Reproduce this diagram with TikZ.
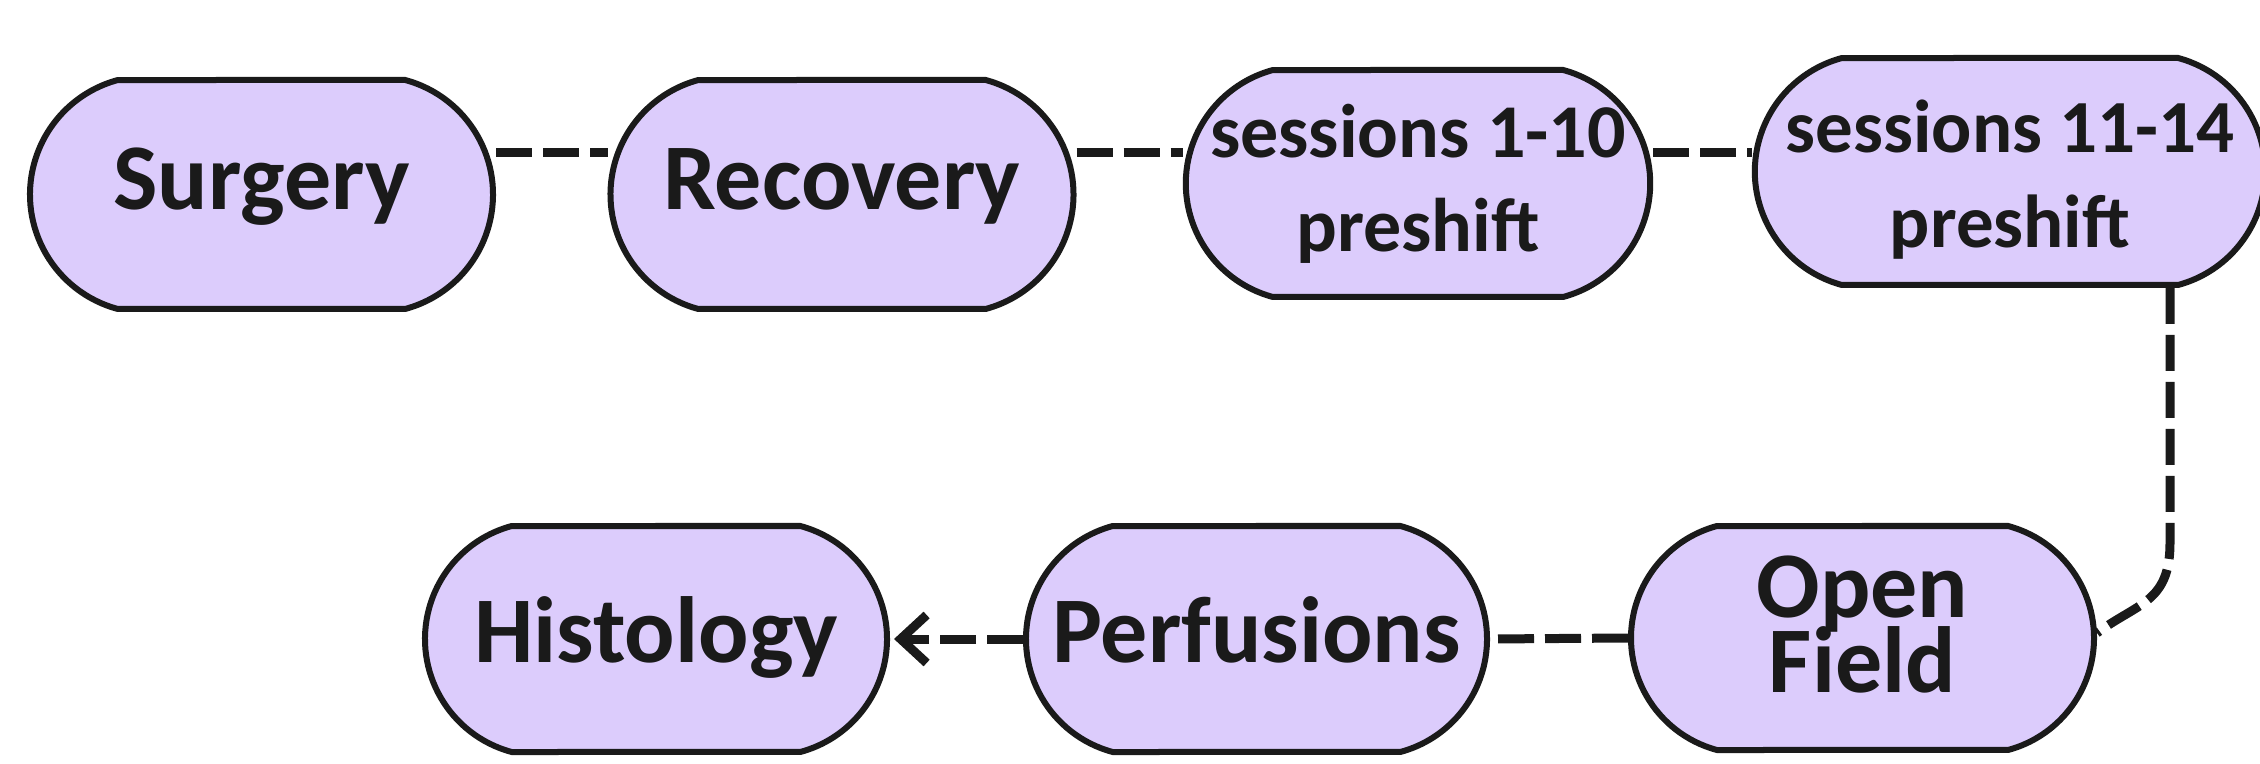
\documentclass[tikz,border=0pt]{standalone}
\usepackage{fontspec}
\newfontfamily\carl{Carlito}
\usetikzlibrary{shapes.misc,arrows.meta,backgrounds,calc}
\definecolor{boxfill}{RGB}{220,204,252}
\definecolor{ink}{RGB}{26,26,26}
\newcommand\twolines[3]{\vbox{\baselineskip=#3\lineskiplimit=-100pt\relax\halign{\hfil##\hfil\cr #1\cr #2\cr}}}
\tikzset{
  stagebox/.style={rounded rectangle, rounded rectangle arc length=150,
    draw=ink, line width=3pt, fill=boxfill, inner sep=0pt,
    minimum width=231.5pt, minimum height=113.5pt,
    font=\carl\bfseries\fontsize{47}{47}\selectfont, text=ink},
  conn/.style={draw=ink, line width=4.5pt, dash pattern=on 18pt off 5.5pt},
}
\begin{document}
\begin{tikzpicture}[x=0.5pt,y=-0.5pt]
\useasboundingbox (0,0) rectangle (2260,764);
\node[stagebox, text height=18pt, text depth=2.5pt, minimum height=114.5pt] (sur) at (261.5,194.5) {Surgery};
\node[stagebox, text height=18pt, text depth=2.5pt, minimum height=114.5pt] (rec) at (842,194.5) {Recovery};
\node[stagebox, text height=70pt, text depth=1.5pt, font=\carl\bfseries\fontsize{38}{38}\selectfont] (s1) at (1418,183.5) {\twolines{sessions 1-10}{preshift}{47pt}};
\node[stagebox, minimum width=244pt, text height=78pt, text depth=1.5pt, font=\carl\bfseries\fontsize{37.5}{37.5}\selectfont] (s2) at (2010,171.5) {\twolines{sessions 11-14}{preshift}{47.5pt}};
\node[stagebox, minimum height=112pt, text height=56pt, text depth=2pt] (of) at (1862.5,638) {\twolines{Open}{Field}{37.5pt}};
\node[stagebox, minimum width=230.5pt, minimum height=113pt, text height=25pt, text depth=2pt] (pe) at (1256.5,639) {Perfusions};
\node[stagebox, minimum width=231pt, minimum height=113pt, text height=25pt, text depth=2pt] (hi) at (656,639) {Histology};
\begin{scope}[on background layer]
\draw[conn] ([yshift=20.75pt]sur.east) -- ([yshift=20.75pt]rec.west);
\draw[conn] ([yshift=20.75pt]rec.east) -- ([yshift=20.75pt]rec.east -| s1.west);
\draw[conn] ([yshift=15.25pt]s1.east) -- ([yshift=15.25pt]s1.east -| s2.west);
\draw[conn] ([xshift=80pt]s2.south) -- ++(0,-127.5pt) .. controls +(0,-30pt) and +(20pt,15pt) .. ([yshift=2.5pt]of.east);
\draw[conn] (of.west) -- (pe.east);
\draw[conn, -{Straight Barb[length=13pt,width=24pt]}, shorten >=2pt] (pe.west) -- (hi.east);
\end{scope}
\end{tikzpicture}
\end{document}
